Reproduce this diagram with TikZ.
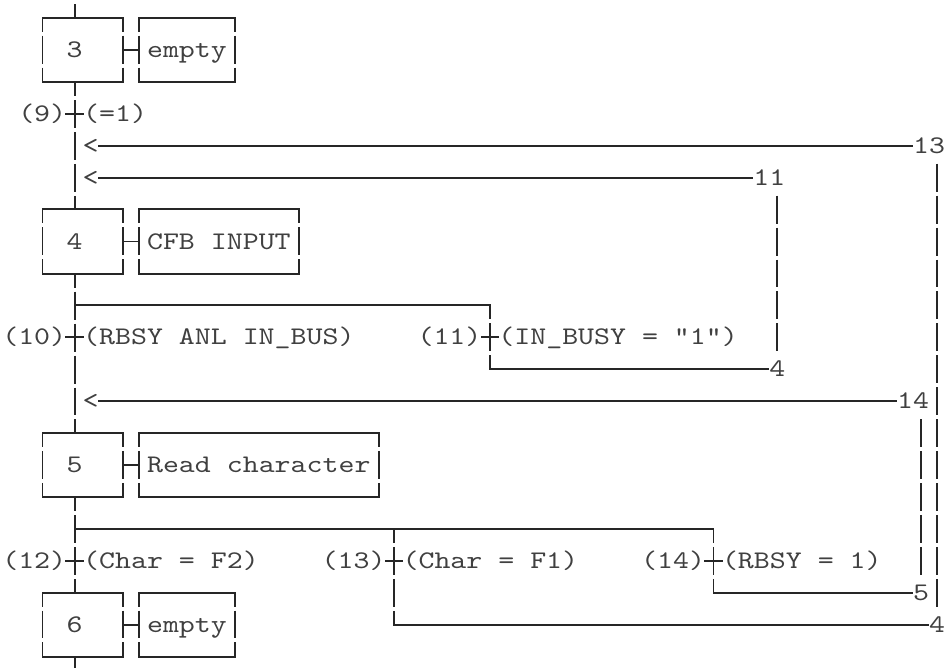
\documentclass[tikz,border=0pt]{standalone}
\usepackage{fontspec}
\newfontfamily\sfcfont{lmmono10-regular.otf}[FakeStretch=1.2]
\usetikzlibrary{positioning,backgrounds}

\begin{document}
\begin{tikzpicture}[x=11.98pt, y=-23.955pt,
  every node/.style = {font=\sfcfont\fontsize{19pt}{23pt}\selectfont, text=black!75,
    inner xsep=0pt, inner ysep=3pt, text height=13.3pt, text depth=1.9pt},
  hline/.style = {draw=black!85, line width=1.4pt, line cap=rect},
  vline/.style = {draw=black!85, line width=1.4pt,
    dash pattern=on 20.955pt off 3pt, dash phase=10.475pt},
  frame/.style = {minimum height=47.91pt, append after command={
      (\tikzlastnode.north west) edge[hline] (\tikzlastnode.north east)
      (\tikzlastnode.south west) edge[hline] (\tikzlastnode.south east)
      (\tikzlastnode.north west) edge[vline] (\tikzlastnode.south west)
      (\tikzlastnode.north east) edge[vline] (\tikzlastnode.south east)}},
  stepbox/.style = {frame, minimum width=59.9pt, execute at end node={\hspace*{11.98pt}}},
  actbox/.style = {frame, inner xsep=5.99pt, right=11.98pt of #1},
  tbar/.style = {minimum width=11.98pt, append after command={
      (\tikzlastnode.west) edge[hline] (\tikzlastnode.east)}},
  jlbl/.style = {fill=white}
  ]
  \useasboundingbox (-0.676,-0.5636) rectangle (58.62,20.3507);

  % steps
  \node[stepbox] (s3) at (4.5,1) {3};
  \node[actbox=s3] (a3) {empty};
  \node[stepbox] (s4) at (4.5,7) {4};
  \node[actbox=s4] (a4) {CFB INPUT};
  \node[stepbox] (s5) at (4.5,14) {5};
  \node[actbox=s5] (a5) {Read character};
  \node[stepbox] (s6) at (4.5,19) {6};
  \node[actbox=s6] (a6) {empty};
  \foreach \s in {3,4,5,6} \draw[hline] (s\s) -- (a\s);

  % transitions
  \node[tbar] (t9) at (4,3) {};
  \node[left=0pt of t9] (n9) {(9)};
  \node[right=0pt of t9] (c9) {(=1)};
  \node[tbar] (t10) at (4,10) {};
  \node[left=0pt of t10] (n10) {(10)};
  \node[right=0pt of t10] (c10) {(RBSY ANL IN\_BUS)};
  \node[tbar] (t11) at (30,10) {};
  \node[left=0pt of t11] (n11) {(11)};
  \node[right=0pt of t11] (c11) {(IN\_BUSY = "1")};
  \node[tbar] (t12) at (4,17) {};
  \node[left=0pt of t12] (n12) {(12)};
  \node[right=0pt of t12] (c12) {(Char = F2)};
  \node[tbar] (t13) at (24,17) {};
  \node[left=0pt of t13] (n13) {(13)};
  \node[right=0pt of t13] (c13) {(Char = F1)};
  \node[tbar] (t14) at (44,17) {};
  \node[left=0pt of t14] (n14) {(14)};
  \node[right=0pt of t14] (c14) {(RBSY = 1)};

  % jumps
  \node (in13) at (5,4) {<};
  \node[jlbl] (j13) at (57.5,4) {13};
  \node (in11) at (5,5) {<};
  \node[jlbl] (j11) at (47.5,5) {11};
  \node (in14) at (5,12) {<};
  \node[jlbl] (j14) at (56.5,12) {14};
  \node[jlbl] (r11) at (48,11) {4};
  \node[jlbl] (r14) at (57,18) {5};
  \node[jlbl] (r13) at (58,19) {4};
  \coordinate (top) at (4,-1);
  \coordinate (bot) at (4,21);
  \coordinate (fork4) at (4,9);
  \coordinate (fork5) at (4,16);

  \begin{scope}[on background layer]
    \draw[vline] (top) -- (top |- s3.north);
    \draw[vline] (t9 |- s3.south) -- (t9 |- s4.north);
    \draw[vline] (t10 |- s4.south) -- (t10 |- s5.north);
    \draw[vline] (t12 |- s5.south) -- (t12 |- s6.north);
    \draw[vline] (bot |- s6.south) -- (bot);
    % divergences
    \draw[hline] (fork4) -- (fork4 -| t11);
    \draw[vline] (fork4 -| t11) -- (t11 |- r11);
    \draw[hline] (t11 |- r11) -- (r11);
    \draw[hline] (fork5) -- (fork5 -| t14);
    \draw[vline] (fork5 -| t13) -- (t13 |- r13);
    \draw[hline] (t13 |- r13) -- (r13);
    \draw[vline] (fork5 -| t14) -- (t14 |- r14);
    \draw[hline] (t14 |- r14) -- (r14);
    % back to the steps
    \draw[hline] (in13) -- (j13);
    \draw[vline] (r13 |- j13) -- (r13);
    \draw[hline] (in11) -- (j11);
    \draw[vline] (r11 |- j11) -- (r11);
    \draw[hline] (in14) -- (j14);
    \draw[vline] (r14 |- j14) -- (r14);
  \end{scope}
\end{tikzpicture}
\end{document}
